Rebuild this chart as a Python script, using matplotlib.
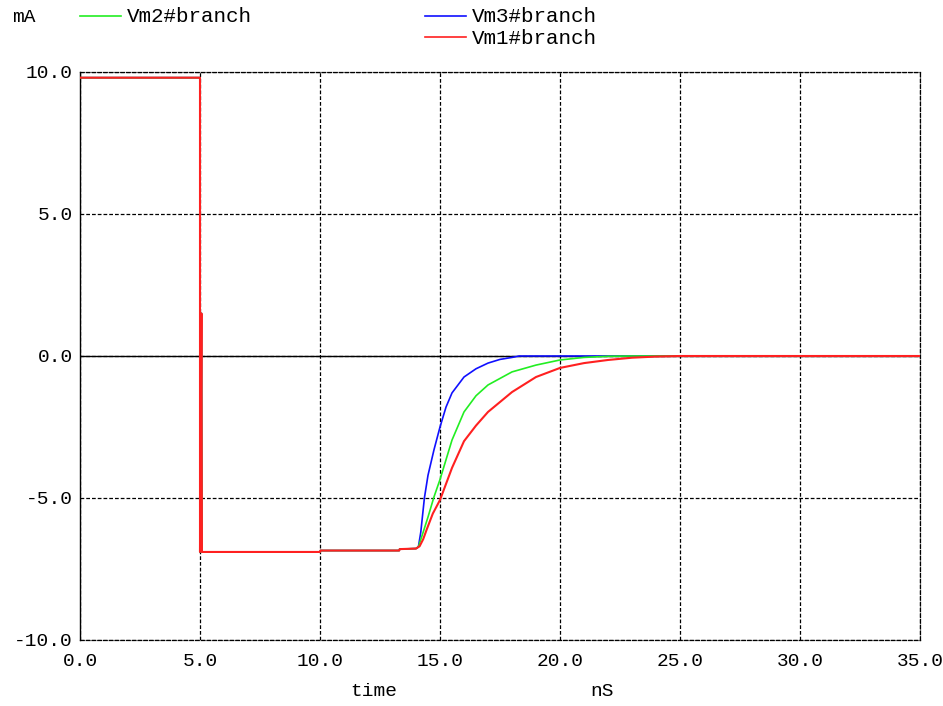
import matplotlib.pyplot as plt
from matplotlib.lines import Line2D

# time in nS, current in mA
red_t = [0.0, 5.0, 5.0, 5.06, 5.08, 10.0, 10.02, 13.3, 13.32, 14.0, 14.15, 14.3, 14.45, 14.7,
         15.0, 15.5, 16.0, 16.5, 17.0, 18.0, 19.0, 20.0, 21.0, 22.0, 23.0, 24.0, 25.0, 35.0]
red_i = [9.8, 9.8, -6.9, 1.5, -6.9, -6.9, -6.85, -6.85, -6.8, -6.78, -6.7, -6.45, -6.1, -5.55,
         -5.07, -3.94, -3.0, -2.45, -1.97, -1.27, -0.74, -0.42, -0.25, -0.14, -0.06, -0.02, 0.0, 0.0]

green_t = [0.0, 5.0, 5.0, 5.06, 5.08, 10.0, 10.02, 13.3, 13.32, 14.0, 14.1, 14.3, 14.5, 14.75,
           15.0, 15.5, 16.0, 16.5, 17.0, 18.0, 19.0, 20.0, 21.0, 22.0, 23.0, 35.0]
green_i = [9.8, 9.8, -6.9, 1.5, -6.9, -6.9, -6.85, -6.85, -6.8, -6.78, -6.72, -6.2, -5.67, -4.96,
           -4.35, -2.96, -1.97, -1.4, -1.02, -0.56, -0.32, -0.14, -0.05, -0.01, 0.0, 0.0]

blue_t = [0.0, 5.0, 5.0, 5.06, 5.08, 10.0, 10.02, 13.3, 13.32, 14.0, 14.1, 14.2, 14.35, 14.5,
          14.75, 15.0, 15.25, 15.5, 16.0, 16.5, 17.0, 17.5, 18.0, 18.3, 35.0]
blue_i = [9.8, 9.8, -6.9, 1.5, -6.9, -6.9, -6.85, -6.85, -6.8, -6.78, -6.72, -6.2, -5.0, -4.2,
          -3.3, -2.5, -1.8, -1.3, -0.74, -0.45, -0.25, -0.12, -0.05, 0.0, 0.0]

x_ticks = [0, 5, 10, 15, 20, 25, 30, 35]
y_ticks = [-10, -5, 0, 5, 10]

mono = "Liberation Mono"
W, H = 943, 706
dash = (0, (3.0, 1.6))

fig = plt.figure(figsize=(9.43, 7.06), dpi=100)
ax = fig.add_axes([80 / W, (H - 640) / H, 840 / W, 568 / H])

ax.axhline(0, color="black", lw=1.0, zorder=1)
ax.plot(blue_t, blue_i, color="#1010ff", lw=1.2, zorder=2)
ax.plot(green_t, green_i, color="#22ee22", lw=1.2, zorder=3)
ax.plot(red_t, red_i, color="#ff2020", lw=1.5, zorder=4)

ax.set_xlim(0, 35)
ax.set_ylim(-10, 10)
ax.set_xticks(x_ticks)
ax.set_yticks(y_ticks)
ax.set_xticklabels([f"{v:.1f}" for v in x_ticks], fontfamily=mono, fontsize=14)
ax.set_yticklabels([f"{v:.1f}" for v in y_ticks], fontfamily=mono, fontsize=14)
ax.tick_params(axis="x", length=0, pad=9)
ax.tick_params(axis="y", length=0, pad=5)
ax.grid(True, color="black", lw=0.9, linestyle=dash, zorder=0)

for side in ["top", "right", "bottom"]:
    ax.spines[side].set_linestyle(dash)
    ax.spines[side].set_linewidth(0.9)
ax.spines["left"].set_linewidth(1.0)

# legend / labels in figure pixels
fig.text(12 / W, 1 - 17 / H, "mA", fontfamily=mono, fontsize=14, va="center")
legend = [(80, 16, "#22ee22", "Vm2#branch"),
          (425, 16, "#1010ff", "Vm3#branch"),
          (425, 37, "#ff2020", "Vm1#branch")]
for x0, y0, c, name in legend:
    fig.add_artist(Line2D([x0 / W, (x0 + 41) / W], [1 - y0 / H, 1 - y0 / H],
                          color=c, lw=1.2, transform=fig.transFigure))
    fig.text((x0 + 47) / W, 1 - (y0 + 1) / H, name, fontfamily=mono, fontsize=15, va="center")

fig.text(350 / W, 1 - 692 / H, "time", fontfamily=mono, fontsize=14, va="center")
fig.text(590 / W, 1 - 692 / H, "nS", fontfamily=mono, fontsize=14, va="center")

fig.savefig("out.png", dpi=100)
